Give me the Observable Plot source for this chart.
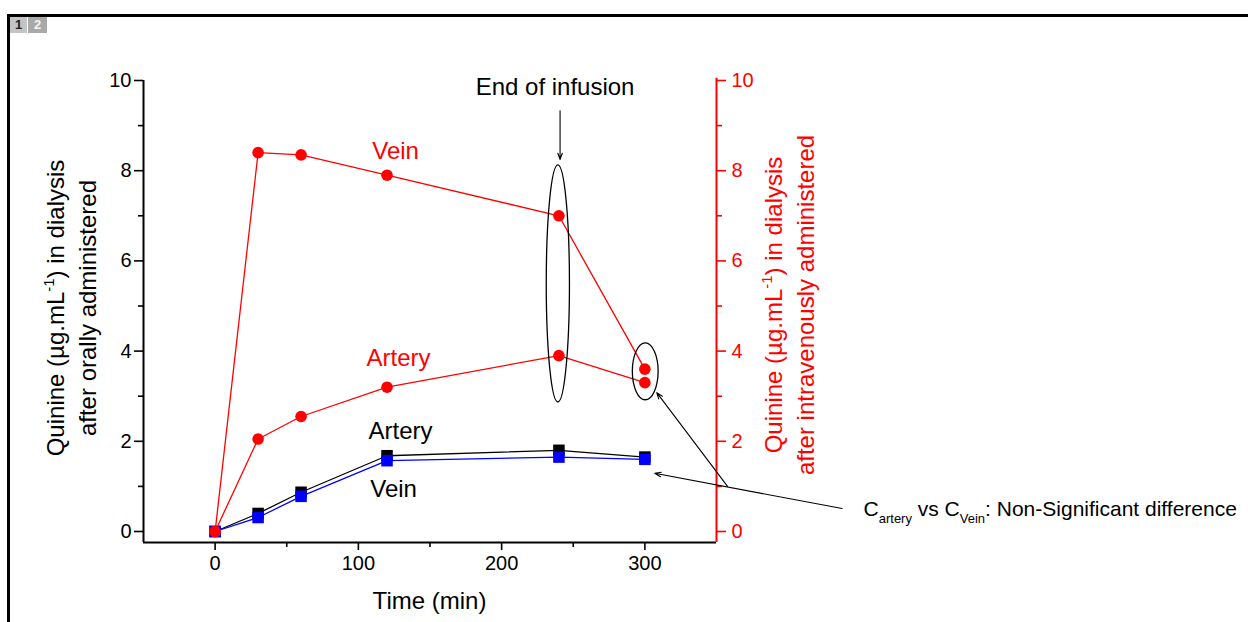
<!DOCTYPE html>
<html><head><meta charset="utf-8">
<script src="https://cdn.jsdelivr.net/npm/d3@7"></script>
<script src="https://cdn.jsdelivr.net/npm/@observablehq/plot@0.6"></script>
<style>
body{margin:0;background:#fff;font-family:"Liberation Sans",Arial,sans-serif;}
#wrap{position:relative;width:1248px;height:622px;overflow:hidden;background:#fff;}
#chart{position:absolute;left:0;top:0;}
#frameTop{position:absolute;left:7px;top:14px;width:1241px;height:3px;background:#000;}
#frameLeft{position:absolute;left:7px;top:14px;width:3px;height:608px;background:#000;}
.tab{position:absolute;top:17px;height:16px;font:bold 13px "Liberation Sans",Arial,sans-serif;text-align:center;line-height:16px;}
</style></head>
<body>
<div id="wrap">
  <div id="chart"></div>
  <div id="frameTop"></div>
  <div id="frameLeft"></div>
  <div class="tab" style="left:10px;width:17px;background:#c4c4c4;color:#222;">1</div>
  <div class="tab" style="left:28px;width:19px;background:#a9a9a9;color:#f4f4f4;">2</div>
</div>
<script>
// ---- data ----
const time = [0, 30, 60, 120, 240, 300];
const ivVein = [0, 8.4, 8.35, 7.9, 7.0, 3.6];
const ivArtery = [0, 2.05, 2.55, 3.2, 3.9, 3.3];
const oralArtery = [0, 0.4, 0.87, 1.68, 1.8, 1.65];
const oralVein = [0, 0.31, 0.78, 1.57, 1.65, 1.6];
const xTicks = [0, 100, 200, 300];
const xMinorTicks = [50, 150, 250];
const yTicks = [0, 2, 4, 6, 8, 10];
const yMinorTicks = [1, 3, 5, 7, 9];
const seriesLabels = ["Vein", "Artery", "Artery", "Vein"];
const seriesLabelColors = ["red", "red", "black", "black"];
const infusionText = "End of infusion";
const xTitle = "Time (min)";
const yTitleLeft = ["after orally administered"];
const yTitleRight = ["after intravenously administered"];

// ---- annotation placement (data units) ----
const labelAt = [{x: 126, y: 8.42}, {x: 128, y: 3.83}, {x: 129.4, y: 2.23}, {x: 124.6, y: 0.94}];
const arrows = [
  {x1: 240.8, y1: 9.33, x2: 240.8, y2: 8.25},
  {x1: 357.7, y1: 1.0, x2: 308.3, y2: 3.08},
  {x1: 437.7, y1: 0.51, x2: 306.9, y2: 1.29}
];
const ellipses = [
  {cx: 239.6, cy: 5.49, rx: 8.1, ry: 2.63},
  {cx: 300.6, cy: 3.54, rx: 9.0, ry: 0.63}
];

const rows = vals => time.map((t, i) => ({t, v: vals[i]}));
const yMin = -0.244;

const chart = Plot.plot({
  width: 1248,
  height: 622,
  marginLeft: 143,
  marginRight: 532,
  marginTop: 80,
  marginBottom: 80,
  style: {fontFamily: "Liberation Sans, Arial, sans-serif", fontSize: "20px", background: "transparent", overflow: "visible"},
  x: {domain: [-50, 350]},
  y: {domain: [yMin, 10]},
  marks: [
    Plot.axisX({ticks: xTicks, tickSize: 8, tickPadding: 5, strokeWidth: 1.6, fontSize: 20, label: null}),
    Plot.axisX({ticks: xMinorTicks, tickSize: 5, strokeWidth: 1.6, tickFormat: () => "", label: null}),
    Plot.axisY({anchor: "left", ticks: yTicks, tickSize: 9, tickPadding: 3, strokeWidth: 1.6, fontSize: 20, label: null}),
    Plot.axisY({anchor: "left", ticks: yMinorTicks, tickSize: 5, strokeWidth: 1.6, tickFormat: () => "", label: null}),
    Plot.axisY({anchor: "right", ticks: yTicks, tickSize: 9, tickPadding: 6, strokeWidth: 1.6, fontSize: 20, color: "red", label: null}),
    Plot.axisY({anchor: "right", ticks: yMinorTicks, tickSize: 5, strokeWidth: 1.6, color: "red", tickFormat: () => "", label: null}),
    Plot.ruleX([-50], {y1: yMin, y2: 10, stroke: "black", strokeWidth: 2}),
    Plot.ruleY([yMin], {x1: -50, x2: 350, stroke: "black", strokeWidth: 2}),
    Plot.ruleX([350], {y1: yMin, y2: 10.05, stroke: "red", strokeWidth: 2}),

    Plot.line(rows(oralArtery), {x: "t", y: "v", stroke: "black", strokeWidth: 1.3}),
    Plot.line(rows(oralVein), {x: "t", y: "v", stroke: "blue", strokeWidth: 1.3}),
    Plot.dot(rows(oralArtery), {x: "t", y: "v", symbol: "square", r: 6.5, fill: "black"}),
    Plot.dot(rows(oralVein), {x: "t", y: "v", symbol: "square", r: 6.5, fill: "blue"}),
    Plot.line(rows(ivVein), {x: "t", y: "v", stroke: "red", strokeWidth: 1.3}),
    Plot.line(rows(ivArtery), {x: "t", y: "v", stroke: "red", strokeWidth: 1.3}),
    Plot.dot(rows(ivVein), {x: "t", y: "v", r: 5.8, fill: "red"}),
    Plot.dot(rows(ivArtery), {x: "t", y: "v", r: 5.8, fill: "red"}),

    Plot.text(seriesLabels, {x: (d, i) => labelAt[i].x, y: (d, i) => labelAt[i].y, text: d => d, fill: (d, i) => seriesLabelColors[i], fontSize: 24}),
    Plot.text([infusionText], {x: 237.3, y: 9.86, text: d => d, fill: "black", fontSize: 24}),
    Plot.arrow(arrows, {x1: "x1", y1: "y1", x2: "x2", y2: "y2", stroke: "black", strokeWidth: 1.1, headLength: 9, headAngle: 40})
  ]
});
document.getElementById("chart").appendChild(chart);

const sx = chart.scale("x").apply, sy = chart.scale("y").apply;
const svg = d3.select(chart);
const g = svg.append("g");

ellipses.forEach(e => {
  g.append("ellipse")
    .attr("cx", sx(e.cx)).attr("cy", sy(e.cy))
    .attr("rx", sx(e.cx + e.rx) - sx(e.cx)).attr("ry", sy(e.cy - e.ry) - sy(e.cy))
    .attr("fill", "none").attr("stroke", "black").attr("stroke-width", 1.3);
});

function rotTitle(x, y, color, second) {
  const t1 = g.append("text").attr("transform", `translate(${x},${y}) rotate(-90)`)
    .attr("text-anchor", "middle").attr("fill", color).attr("font-size", 24);
  t1.append("tspan").text("Quinine (\u00b5g.mL");
  t1.append("tspan").attr("font-size", 15).attr("dy", -10).text("-1");
  t1.append("tspan").attr("dy", 10).text(") in dialysis");
  g.append("text").attr("transform", `translate(${x + 32},${y}) rotate(-90)`)
    .attr("text-anchor", "middle").attr("fill", color).attr("font-size", 24).text(second);
}
const xl = sx(-50), xr = sx(350);
rotTitle(xl - 79, 308, "black", yTitleLeft[0]);
rotTitle(xr + 66, 305, "red", yTitleRight[0]);

g.append("text").attr("x", (xl + xr) / 2).attr("y", 609).attr("text-anchor", "middle")
  .attr("font-size", 24).attr("fill", "black").text(xTitle);

const sub = g.append("text").attr("x", sx(453)).attr("y", sy(0.33)).attr("text-anchor", "start")
  .attr("font-size", 21).attr("fill", "black");
sub.append("tspan").text("C");
sub.append("tspan").attr("font-size", 13).attr("dy", 7).text("artery");
sub.append("tspan").attr("dy", -7).text(" vs C");
sub.append("tspan").attr("font-size", 13).attr("dy", 7).text("Vein");
sub.append("tspan").attr("dy", -7).text(": Non-Significant difference");
</script>
</body></html>
